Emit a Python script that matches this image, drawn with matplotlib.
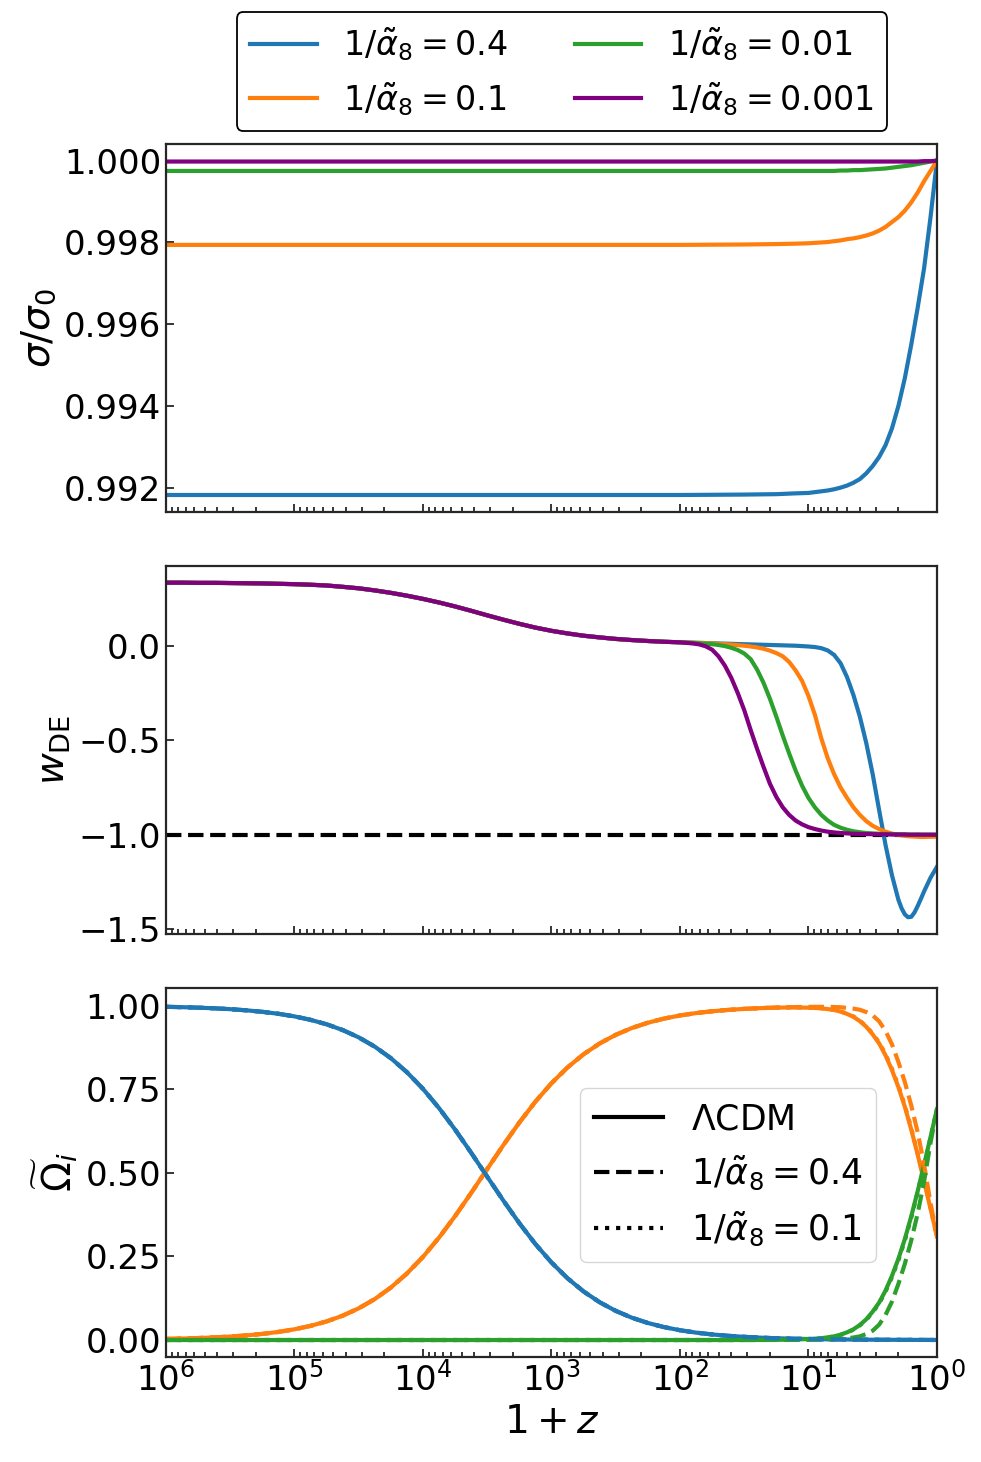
import matplotlib
matplotlib.use('Agg')
import matplotlib.pyplot as plt
from matplotlib.lines import Line2D

# ---- data ----
# top panel: sigma / sigma_0
x_sig = [1e6, 1e3, 100, 31.62, 17.78, 12.59, 10.0, 8.913, 7.943, 7.079, 6.310, 5.623,
         5.012, 4.467, 3.981, 3.548, 3.162, 2.818, 2.512, 2.239, 1.995, 1.778, 1.585,
         1.413, 1.259, 1.122, 1.0]
sig_04 = [0.99182, 0.99182, 0.99182, 0.99183, 0.99184, 0.99186, 0.99187, 0.99189,
          0.99191, 0.99193, 0.99196, 0.99200, 0.99205, 0.99212, 0.99221, 0.99235,
          0.99253, 0.99275, 0.99304, 0.99345, 0.99400, 0.99468, 0.99550, 0.99640,
          0.99737, 0.99862, 1.0]
sig_01 = [0.99794, 0.99794, 0.99794, 0.99795, 0.99796, 0.99797, 0.99798, 0.99799,
          0.99800, 0.99801, 0.99803, 0.99805, 0.99808, 0.99810, 0.99813, 0.99817,
          0.99822, 0.99829, 0.99838, 0.99850, 0.99862, 0.99878, 0.99898, 0.99922,
          0.99950, 0.99975, 1.0]
sig_001 = [0.99975, 0.99975, 0.99975, 0.99975, 0.99975, 0.99975, 0.99975, 0.99975,
           0.99975, 0.99975, 0.99975, 0.99976, 0.99976, 0.99977, 0.99977, 0.99978,
           0.99979, 0.99980, 0.99981, 0.99983, 0.99985, 0.99987, 0.99989, 0.99992,
           0.99995, 0.99998, 1.0]
sig_0001 = [0.99998, 0.99998, 0.99998, 0.99998, 0.99998, 0.99998, 0.99998, 0.99998,
            0.99998, 0.99998, 0.99998, 0.99998, 0.99998, 0.99998, 0.99998, 0.99998,
            0.99998, 0.99998, 0.99998, 0.99998, 0.99998, 0.99998, 0.99998, 0.99998,
            0.99999, 0.99999, 1.0]

# middle panel: w_DE
x_w = [1e6, 7.499e5, 5.623e5, 4.217e5, 3.162e5, 2.371e5, 1.778e5, 1.334e5, 1e5,
       7.499e4, 5.623e4, 4.217e4, 3.162e4, 2.371e4, 1.778e4, 1.334e4, 1e4, 7499, 5623,
       4217, 3162, 2371, 1778, 1334, 1000, 749.9, 562.3, 421.7, 316.2, 237.1, 177.8,
       133.4, 100,
       89.13, 79.43, 70.79, 63.10, 56.23, 50.12, 44.67, 39.81, 35.48, 31.62, 28.18,
       25.12, 22.39, 19.95, 17.78, 15.85, 14.13, 12.59, 11.22, 10.0, 8.913, 7.943,
       7.079, 6.310, 5.623, 5.012, 4.467, 3.981, 3.548, 3.162, 2.818, 2.512, 2.239,
       1.995, 1.884, 1.778, 1.679, 1.585, 1.496, 1.413, 1.334, 1.259, 1.122, 1.0]
w_early = [0.335, 0.335, 0.334, 0.334, 0.333, 0.332, 0.331, 0.329, 0.327, 0.324, 0.320,
           0.313, 0.305, 0.294, 0.281, 0.266, 0.249, 0.230, 0.209, 0.186, 0.162, 0.139,
           0.117, 0.097, 0.080, 0.066, 0.054, 0.045, 0.037, 0.031, 0.026, 0.022, 0.019]
w_04 = w_early + [0.018, 0.017, 0.016, 0.015, 0.014, 0.013, 0.012, 0.011, 0.010, 0.009,
                  0.008, 0.007, 0.006, 0.005, 0.004, 0.003, 0.002, 0.001, -0.001, -0.003,
                  -0.006, -0.012, -0.024, -0.048, -0.092, -0.165, -0.26, -0.375, -0.515,
                  -0.68, -0.87, -1.055,
                  -1.215, -1.345, -1.39, -1.422, -1.437, -1.435, -1.412, -1.378, -1.34,
                  -1.30, -1.228, -1.17]
w_01 = w_early + [0.018, 0.017, 0.016, 0.015, 0.013, 0.011, 0.009, 0.007, 0.004, 0.001,
                  -0.003, -0.008, -0.015, -0.025, -0.038, -0.055, -0.085, -0.13, -0.185,
                  -0.265, -0.365, -0.49, -0.595, -0.68, -0.75, -0.805, -0.855, -0.895,
                  -0.928, -0.953, -0.970, -0.984,
                  -0.994, -1.001, -1.004, -1.006, -1.008, -1.009, -1.010, -1.011, -1.012,
                  -1.012, -1.011, -1.01]
w_001 = w_early + [0.018, 0.016, 0.014, 0.012, 0.009, 0.005, -0.001, -0.01, -0.022,
                   -0.04, -0.07, -0.125, -0.195, -0.28, -0.375, -0.475, -0.57, -0.66,
                   -0.74, -0.805, -0.855, -0.895, -0.925, -0.948, -0.963, -0.974, -0.982,
                   -0.987, -0.991, -0.993, -0.995, -0.996,
                   -0.997, -0.998, -0.998, -0.998, -0.999, -0.999, -0.999, -0.999, -1.0,
                   -1.0, -1.0, -1.0]
w_0001 = w_early + [0.016, 0.013, 0.008, -0.002, -0.02, -0.055, -0.105, -0.17, -0.25,
                    -0.34, -0.445, -0.545, -0.64, -0.73, -0.80, -0.855, -0.895, -0.925,
                    -0.945, -0.96, -0.97, -0.978, -0.984, -0.988, -0.991, -0.993, -0.995,
                    -0.996, -0.997, -0.997, -0.998, -0.998,
                    -0.999, -0.999, -0.999, -0.999, -1.0, -1.0, -1.0, -1.0, -1.0,
                    -1.0, -1.0, -1.0]
x_lcdm = [1e6, 1.0]
w_lcdm = [-1.0, -1.0]

# bottom panel: density fractions (blue radiation, orange matter, green dark energy)
x_om = [1e6, 7.499e5, 5.623e5, 4.217e5, 3.162e5, 2.371e5, 1.778e5, 1.334e5, 1e5,
        7.499e4, 5.623e4, 4.217e4, 3.162e4, 2.371e4, 1.778e4, 1.334e4, 1e4, 7499, 5623,
        4217, 3162, 2371, 1778, 1334, 1000, 749.9, 562.3, 421.7, 316.2, 237.1, 177.8,
        133.4, 100, 74.99, 56.23, 42.17, 31.62, 23.71, 17.78, 13.34, 10.0,
        8.913, 7.943, 7.079, 6.310, 5.623, 5.012, 4.467, 3.981, 3.548, 3.162, 2.818,
        2.512, 2.239, 1.995, 1.778, 1.585, 1.413, 1.259, 1.122, 1.0]
om_r = [0.9967, 0.9956, 0.9941, 0.9922, 0.9896, 0.9862, 0.9817, 0.9758, 0.9680, 0.9577,
        0.9444, 0.9272, 0.9052, 0.8775, 0.8430, 0.8011, 0.7513, 0.6937, 0.6294, 0.5601,
        0.4885, 0.4173, 0.3494, 0.2871, 0.2320, 0.1846, 0.1452, 0.1130, 0.0872, 0.0668,
        0.0510, 0.0387, 0.0293, 0.0221, 0.0167, 0.0126, 0.0095, 0.0071, 0.0053, 0.0040,
        0.0030, 0.0027, 0.0024, 0.0021, 0.0019, 0.0017, 0.0015, 0.0013, 0.0012, 0.0010,
        0.0009, 0.0008, 0.0007, 0.0006, 0.0005, 0.0004, 0.0004, 0.0003, 0.0003, 0.0002,
        0.0002]
m_early = [0.0033, 0.0044, 0.0059, 0.0078, 0.0104, 0.0138, 0.0183, 0.0242, 0.0320,
           0.0423, 0.0556, 0.0728, 0.0948, 0.1225, 0.1570, 0.1989, 0.2487, 0.3063,
           0.3706, 0.4399, 0.5115, 0.5827, 0.6506, 0.7129, 0.7680, 0.8154, 0.8548,
           0.8870, 0.9128, 0.9332, 0.9490, 0.9613, 0.9707, 0.9779, 0.9833, 0.9874]
de_early = [0.0] * 36
om_m_lcdm = m_early + [0.9904, 0.9927, 0.9942, 0.9948, 0.9940, 0.9933, 0.9921, 0.9899,
                       0.9871, 0.9823, 0.9755, 0.9667, 0.9538, 0.9370, 0.9141, 0.8872,
                       0.8513, 0.8074, 0.7565, 0.6976, 0.6296, 0.5547, 0.4747, 0.3928,
                       0.3098]
om_de_lcdm = de_early + [0.0001, 0.0002, 0.0005, 0.0012, 0.003, 0.004, 0.0055, 0.008,
                         0.011, 0.016, 0.023, 0.032, 0.045, 0.062, 0.085, 0.112, 0.148,
                         0.192, 0.243, 0.302, 0.37, 0.445, 0.525, 0.607, 0.69]
om_m_04 = m_early + [0.9905, 0.9928, 0.9945, 0.9957, 0.9965, 0.9966, 0.9966, 0.9964,
                     0.9961, 0.9953, 0.9935, 0.9912, 0.9878, 0.9810, 0.9711, 0.9532,
                     0.9243, 0.8844, 0.8315, 0.7716, 0.7016, 0.6217, 0.5247, 0.4098,
                     0.3098]
om_de_04 = de_early + [0.0, 0.0001, 0.0002, 0.0003, 0.0005, 0.0007, 0.001, 0.0015,
                       0.002, 0.003, 0.005, 0.0075, 0.011, 0.018, 0.028, 0.046, 0.075,
                       0.115, 0.168, 0.228, 0.298, 0.378, 0.475, 0.59, 0.69]
om_m_01 = m_early + [0.9904, 0.9927, 0.9942, 0.9949, 0.9941, 0.9934, 0.9923, 0.9902,
                     0.9875, 0.9829, 0.9763, 0.9677, 0.9551, 0.9387, 0.9163, 0.8899,
                     0.8546, 0.8111, 0.7607, 0.7018, 0.6338, 0.5584, 0.4779, 0.3949,
                     0.3098]
om_de_01 = de_early + [0.0001, 0.0002, 0.0005, 0.0011, 0.0029, 0.0039, 0.0053, 0.0077,
                       0.0106, 0.0154, 0.0222, 0.031, 0.0437, 0.0603, 0.0828, 0.1093,
                       0.1447, 0.1883, 0.2388, 0.2978, 0.3658, 0.4413, 0.5218, 0.6049,
                       0.69]

labels = [r'$1/\tilde{\alpha}_8 = 0.4$', r'$1/\tilde{\alpha}_8 = 0.1$',
          r'$1/\tilde{\alpha}_8 = 0.01$', r'$1/\tilde{\alpha}_8 = 0.001$']
colors = ['#1f77b4', '#ff7f0e', '#2ca02c', 'purple']
lw = 3

fig = plt.figure(figsize=(9.81, 14.62), dpi=100)
ax1 = fig.add_axes([0.1692, 0.650, 0.7859, 0.2515])
ax2 = fig.add_axes([0.1692, 0.3612, 0.7859, 0.2517], sharex=ax1)
ax3 = fig.add_axes([0.1692, 0.0720, 0.7859, 0.252], sharex=ax1)

# top
for y, c, lab in zip([sig_04, sig_01, sig_001, sig_0001], colors, labels):
    ax1.plot(x_sig, y, color=c, lw=lw, label=lab)
ax1.set_ylabel(r'$\sigma/\sigma_0$', fontsize=28)
ax1.set_yticks([0.992, 0.994, 0.996, 0.998, 1.000])
ax1.set_yticklabels(['0.992', '0.994', '0.996', '0.998', '1.000'])

# middle
ax2.plot(x_lcdm, w_lcdm, 'k--', lw=3)
for y, c in zip([w_04, w_01, w_001, w_0001], colors):
    ax2.plot(x_w, y, color=c, lw=lw)
ax2.set_ylabel(r'$w_{\rm DE}$', fontsize=28)
ax2.set_yticks([0.0, -0.5, -1.0, -1.5])

# bottom
ax3.plot(x_om, om_r, color=colors[0], lw=lw, ls=':')
ax3.plot(x_om, om_m_01, color=colors[1], lw=lw, ls=':')
ax3.plot(x_om, om_de_01, color=colors[2], lw=lw, ls=':')
ax3.plot(x_om, om_r, color=colors[0], lw=lw)
ax3.plot(x_om, om_m_lcdm, color=colors[1], lw=lw)
ax3.plot(x_om, om_de_lcdm, color=colors[2], lw=lw)
ax3.plot(x_om, om_m_04, color=colors[1], lw=lw, ls='--')
ax3.plot(x_om, om_de_04, color=colors[2], lw=lw, ls='--')
ax3.plot(x_om, om_r, color=colors[0], lw=lw, ls='--')
ax3.set_ylabel(r'$\widetilde{\Omega}_i$', fontsize=28)
ax3.set_yticks([0.0, 0.25, 0.5, 0.75, 1.0])
ax3.set_ylim(-0.05, 1.052)
ax3.set_xlabel(r'$1+z$', fontsize=28)

ax3.set_xscale('log')
ax3.set_xlim(1e6, 1)

for ax in [ax1, ax2, ax3]:
    ax.tick_params(which='both', direction='in', labelsize=24.5, width=1.3, color='#262626')
    ax.tick_params(which='major', length=6)
    ax.tick_params(which='minor', length=3.5)
    for s in ax.spines.values():
        s.set_linewidth(1.6)
        s.set_color('#262626')
ax1.tick_params(labelbottom=False)
ax2.tick_params(labelbottom=False)

# legends
h, l = ax1.get_legend_handles_labels()
leg1 = fig.legend(h, l, loc='lower center', bbox_to_anchor=(0.5729, 0.9104), ncol=2,
                  fontsize=24, borderaxespad=0, framealpha=1, edgecolor='k')
leg1.get_frame().set_linewidth(1.3)

style_handles = [Line2D([], [], color='k', lw=3, ls='-'),
                 Line2D([], [], color='k', lw=3, ls='--'),
                 Line2D([], [], color='k', lw=3, ls=':')]
ax3.legend(style_handles, [r'$\Lambda$CDM', labels[0], labels[1]], loc='center',
           bbox_to_anchor=(0.7421, 0.1963), bbox_transform=fig.transFigure, fontsize=25)

plt.savefig('out.png', dpi=100)
